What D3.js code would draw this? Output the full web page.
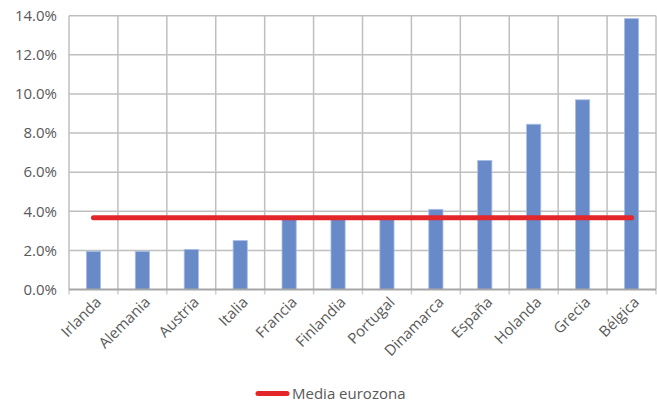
<!DOCTYPE html>
<html>
<head>
<meta charset="utf-8">
<script src="https://cdn.jsdelivr.net/npm/d3@7"></script>
<style>
  html, body { margin: 0; padding: 0; background: #fff; }
  svg { display: block; }
  text { font-family: "Open Sans", "Noto Sans", sans-serif; fill: #595959; }
</style>
</head>
<body>
<svg id="chart" width="657" height="405"></svg>
<script>
// Countries shown on the x axis
const countries = ["Irlanda", "Alemania", "Austria", "Italia", "Francia", "Finlandia",
                   "Portugal", "Dinamarca", "España", "Holanda", "Grecia", "Bélgica"];
// Bar values (percent)
const values = [1.95, 1.95, 2.05, 2.5, 3.6, 3.65, 3.7, 4.1, 6.6, 8.45, 9.7, 13.85];
// Eurozone average (percent), drawn as a horizontal line across all countries
const eurozoneAverage = [3.67, 3.67, 3.67, 3.67, 3.67, 3.67, 3.67, 3.67, 3.67, 3.67, 3.67, 3.67];
// Y axis ticks (percent)
const yTicks = [0, 2, 4, 6, 8, 10, 12, 14];
const legendLabel = "Media eurozona";

const plotLeft = 69, plotRight = 656, plotTop = 15.7, plotBottom = 289.5;

const svg = d3.select("#chart");

const x = d3.scaleBand().domain(countries).range([plotLeft, plotRight]).padding(0);
const y = d3.scaleLinear().domain([0, 14]).range([plotBottom, plotTop]);

// Horizontal gridlines
svg.append("g")
  .selectAll("line")
  .data(yTicks.filter(t => t > 0))
  .join("line")
  .attr("x1", plotLeft).attr("x2", plotRight)
  .attr("y1", d => y(d)).attr("y2", d => y(d))
  .attr("stroke", "#bfbfbf").attr("stroke-width", 1.5);

// Vertical gridlines at category boundaries
const boundaries = countries.map(c => x(c)).concat([plotRight]);
svg.append("g")
  .selectAll("line")
  .data(boundaries)
  .join("line")
  .attr("x1", d => d).attr("x2", d => d)
  .attr("y1", plotTop).attr("y2", plotBottom)
  .attr("stroke", "#bfbfbf").attr("stroke-width", 1.5);

// Small tick marks below the baseline
svg.append("g")
  .selectAll("line")
  .data(boundaries)
  .join("line")
  .attr("x1", d => d).attr("x2", d => d)
  .attr("y1", plotBottom).attr("y2", plotBottom + 5)
  .attr("stroke", "#d0d0d0").attr("stroke-width", 1.5);

// Y axis labels
const yAxis = d3.axisLeft(y)
  .tickValues(yTicks)
  .tickSize(0)
  .tickPadding(12)
  .tickFormat(d => d.toFixed(1) + "%");
const gy = svg.append("g").attr("transform", `translate(${plotLeft},0)`).call(yAxis);
gy.select(".domain").remove();
gy.selectAll("text")
  .style("font-size", "15px")
  .attr("fill", "#595959")
  .attr("font-family", "Open Sans");

// Bars
const barW = x.bandwidth() * 0.29;
svg.append("g")
  .selectAll("rect")
  .data(countries)
  .join("rect")
  .attr("x", d => x(d) + x.bandwidth() / 2 - barW / 2)
  .attr("y", (d, i) => y(values[i]))
  .attr("width", barW)
  .attr("height", (d, i) => plotBottom - y(values[i]))
  .attr("fill", "#688ac8")
  .attr("stroke", "#a9bfe6")
  .attr("stroke-width", 0.8);

// Baseline
svg.append("line")
  .attr("x1", plotLeft).attr("x2", plotRight)
  .attr("y1", plotBottom).attr("y2", plotBottom)
  .attr("stroke", "#a6a6a6").attr("stroke-width", 2.2);

// Eurozone average line
const avgLine = d3.line()
  .x((d, i) => x(countries[i]) + x.bandwidth() / 2)
  .y(d => y(d));
svg.append("path")
  .datum(eurozoneAverage)
  .attr("d", avgLine)
  .attr("fill", "none")
  .attr("stroke", "#e3262a")
  .attr("stroke-width", 5)
  .attr("stroke-linecap", "round");

// X axis labels, rotated
svg.append("g")
  .selectAll("text")
  .data(countries)
  .join("text")
  .attr("transform", d => `translate(${x(d) + x.bandwidth() / 2 + 5},${plotBottom + 10}) rotate(-45)`)
  .attr("text-anchor", "end")
  .attr("dy", "0.35em")
  .style("font-size", "15px")
  .text(d => d);

// Legend
const legend = svg.append("g");
legend.append("line")
  .attr("x1", 258).attr("x2", 287)
  .attr("y1", 393.5).attr("y2", 393.5)
  .attr("stroke", "#e3262a").attr("stroke-width", 5)
  .attr("stroke-linecap", "round");
legend.append("text")
  .attr("x", 292).attr("y", 393.5)
  .attr("dy", "0.35em")
  .style("font-size", "15px")
  .text(legendLabel);
</script>
</body>
</html>
